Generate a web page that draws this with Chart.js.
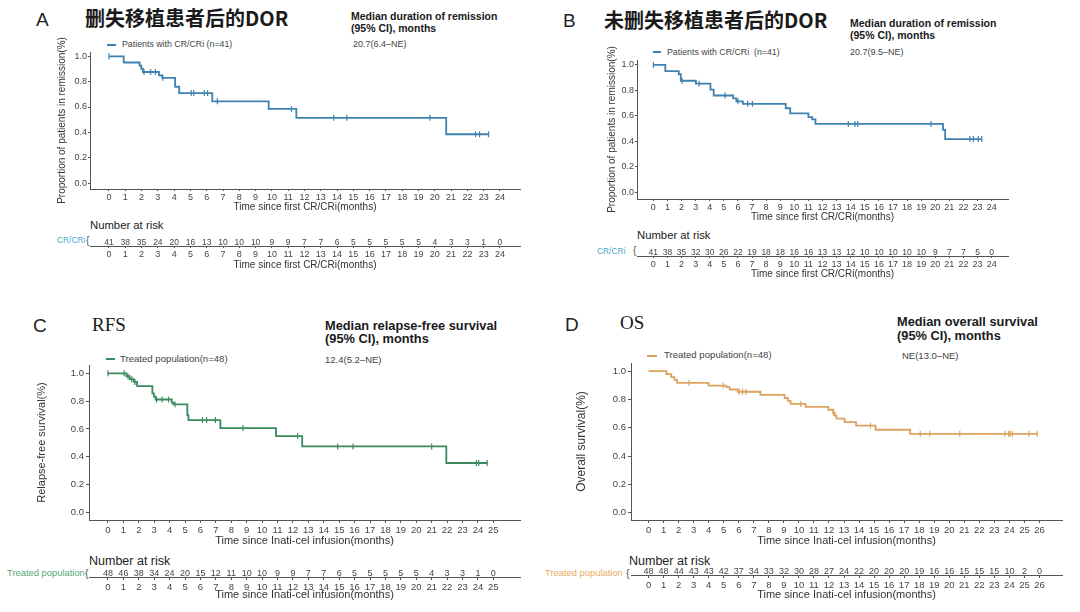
<!DOCTYPE html>
<html>
<head>
<meta charset="utf-8">
<title>DOR / RFS / OS</title>
<script src="https://cdn.jsdelivr.net/npm/chart.js@4.4.1/dist/chart.umd.min.js"></script>
<style>
  body { margin: 0; background: #fff; }
  #page { position: relative; width: 1080px; height: 612px; overflow: hidden; background: #fff;
          font-family: "Liberation Sans", Arial, sans-serif; color: #333; }
  #page canvas { position: absolute; }
  .txt { position: absolute; white-space: nowrap; line-height: 1; }
  .key { position: absolute; height: 2px; }
  .cjk { font-family: "Noto Sans CJK SC", sans-serif; font-weight: 600; color: #1a1a1a; }
  .serif { font-family: "Liberation Serif", serif; font-weight: normal; color: #1a1a1a; }
  .hdr { font-weight: bold; color: #1a1a1a; }
</style>
</head>
<body>
<div id="page">
  <!-- panel A -->
  <div class="txt" style="left:36px;top:10px;font-size:19px;color:#222">A</div>
  <div class="txt cjk" style="left:85px;top:8px;font-size:20px">删失移植患者后的DOR</div>
  <div class="txt hdr" style="left:351px;top:11px;font-size:10.5px">Median duration of remission</div>
  <div class="txt hdr" style="left:351px;top:23px;font-size:10.5px">(95% CI), months</div>
  <div class="txt" style="left:353px;top:40px;font-size:9px;color:#444">20.7(6.4–NE)</div>
  <div class="key" style="left:107px;top:44px;width:9px;background:#3f82b0"></div>
  <div class="txt" style="left:122px;top:40px;font-size:8.8px;color:#444">Patients with CR/CRi (n=41)</div>
  <div class="txt" style="left:90px;top:220px;font-size:11.3px;color:#222">Number at risk</div>
  <div class="txt" style="left:57px;top:236px;font-size:8.4px;color:#4aa8cc">CR/CRi</div>
  <div class="txt" style="left:86px;top:236px;font-size:10px;color:#555">{</div>

  <!-- panel B -->
  <div class="txt" style="left:563px;top:11px;font-size:19px;color:#222">B</div>
  <div class="txt cjk" style="left:604px;top:10px;font-size:20px">未删失移植患者后的DOR</div>
  <div class="txt hdr" style="left:850px;top:18px;font-size:10.5px">Median duration of remission</div>
  <div class="txt hdr" style="left:850px;top:30px;font-size:10.5px">(95% CI), months</div>
  <div class="txt" style="left:850px;top:48px;font-size:9px;color:#444">20.7(9.5–NE)</div>
  <div class="key" style="left:653px;top:51px;width:8px;background:#3f82b0"></div>
  <div class="txt" style="left:667px;top:48px;font-size:8.8px;color:#444">Patients with CR/CRi&nbsp;&nbsp;(n=41)</div>
  <div class="txt" style="left:637px;top:230px;font-size:11.3px;color:#222">Number at risk</div>
  <div class="txt" style="left:597px;top:247px;font-size:8.4px;color:#4aa8cc">CR/CRi</div>
  <div class="txt" style="left:633px;top:246px;font-size:10px;color:#555">{</div>

  <!-- panel C -->
  <div class="txt" style="left:33px;top:316px;font-size:19px;color:#222">C</div>
  <div class="txt serif" style="left:92px;top:315px;font-size:19px">RFS</div>
  <div class="txt hdr" style="left:325px;top:320px;font-size:12.8px">Median relapse-free survival</div>
  <div class="txt hdr" style="left:325px;top:333px;font-size:12.8px">(95% CI), months</div>
  <div class="txt" style="left:325px;top:355px;font-size:9.5px;color:#444">12.4(5.2–NE)</div>
  <div class="key" style="left:106px;top:358px;width:9px;background:#3b8a5e"></div>
  <div class="txt" style="left:120px;top:354px;font-size:9.6px;color:#444">Treated population(n=48)</div>
  <div class="txt" style="left:89px;top:555px;font-size:12.5px;color:#222">Number at risk</div>
  <div class="txt" style="left:7px;top:568px;font-size:9.4px;color:#55a873">Treated population</div>
  <div class="txt" style="left:85px;top:568px;font-size:10.5px;color:#555">{</div>

  <!-- panel D -->
  <div class="txt" style="left:565px;top:315px;font-size:19px;color:#222">D</div>
  <div class="txt serif" style="left:620px;top:313px;font-size:19px">OS</div>
  <div class="txt hdr" style="left:897px;top:316px;font-size:12.8px">Median overall survival</div>
  <div class="txt hdr" style="left:897px;top:330px;font-size:12.8px">(95% CI), months</div>
  <div class="txt" style="left:902px;top:351px;font-size:9.5px;color:#444">NE(13.0–NE)</div>
  <div class="key" style="left:647px;top:355px;width:10px;background:#dca25e"></div>
  <div class="txt" style="left:664px;top:350px;font-size:9.6px;color:#444">Treated population(n=48)</div>
  <div class="txt" style="left:629px;top:555px;font-size:12.5px;color:#222">Number at risk</div>
  <div class="txt" style="left:545px;top:568px;font-size:9.4px;color:#e8ab60">Treated population</div>
  <div class="txt" style="left:626px;top:568px;font-size:10.5px;color:#555">{</div>
</div>

<script>
// Kaplan-Meier panels: DOR (A, B), relapse-free survival (C), overall survival (D)

// ---- shared tick labels ----
const yTicks = [0, 0.2, 0.4, 0.6, 0.8, 1.0];
const dorMonths = [0, 1, 2, 3, 4, 5, 6, 7, 8, 9, 10, 11, 12, 13, 14, 15, 16, 17, 18, 19, 20, 21, 22, 23, 24];
const rfsMonths = [0, 1, 2, 3, 4, 5, 6, 7, 8, 9, 10, 11, 12, 13, 14, 15, 16, 17, 18, 19, 20, 21, 22, 23, 24, 25];
const osMonths = [0, 1, 2, 3, 4, 5, 6, 7, 8, 9, 10, 11, 12, 13, 14, 15, 16, 17, 18, 19, 20, 21, 22, 23, 24, 25, 26];

// ---- panel A: DOR, transplant censored ----
const aTimes = [0, 0.9, 1.88, 1.98, 2.08, 3.07, 3.27, 4.06, 4.31, 6.34, 9.8, 11.5, 20.7];
const aSurv = [1.0, 0.951, 0.927, 0.902, 0.876, 0.85, 0.83, 0.76, 0.71, 0.645, 0.585, 0.515, 0.385];
const aCensor = [0, 2.15, 2.55, 2.85, 3.3, 5.05, 5.2, 5.85, 6.05, 6.65, 11.2, 13.8, 14.6, 19.7, 22.5, 22.75, 23.3];
const aEnd = 23.3;
const aRisk = [41, 38, 35, 24, 20, 16, 13, 10, 10, 10, 9, 9, 7, 7, 6, 5, 5, 5, 5, 5, 4, 3, 3, 1, 0];

// ---- panel B: DOR, transplant not censored ----
const bTimes = [0, 0.85, 1.8, 1.95, 3.02, 4.05, 4.28, 5.66, 5.89, 6.35, 9.39, 9.71, 11.0, 11.27, 11.5, 20.55, 20.7];
const bSurv = [1.0, 0.951, 0.927, 0.876, 0.853, 0.806, 0.76, 0.737, 0.714, 0.695, 0.66, 0.62, 0.59, 0.573, 0.537, 0.49, 0.418];
const bCensor = [0, 2.04, 3.25, 5.09, 6.0, 6.69, 7.03, 13.83, 14.3, 14.5, 19.7, 22.46, 22.7, 23.05, 23.3];
const bEnd = 23.3;
const bRisk = [41, 38, 35, 32, 30, 26, 22, 19, 18, 18, 16, 16, 13, 13, 12, 10, 10, 10, 10, 10, 9, 7, 7, 5, 0];

// ---- panel C: RFS ----
const cTimes = [0, 1.2, 1.41, 1.68, 1.89, 2.88, 2.98, 3.09, 4.14, 4.24, 5.15, 5.22, 7.29, 10.9, 12.6, 21.95];
const cSurv = [1.0, 0.979, 0.958, 0.938, 0.908, 0.856, 0.833, 0.812, 0.79, 0.777, 0.70, 0.664, 0.606, 0.548, 0.474, 0.355];
const cCensor = [0, 1.05, 1.3, 1.55, 1.75, 3.15, 3.51, 3.93, 4.35, 6.13, 6.4, 6.97, 8.76, 12.3, 14.9, 15.9, 21.0, 23.9, 24.05, 24.6];
const cEnd = 24.6;
const cRisk = [48, 46, 38, 34, 24, 20, 15, 12, 11, 10, 10, 9, 9, 7, 7, 6, 5, 5, 5, 5, 5, 4, 3, 3, 1, 0];

// ---- panel D: OS ----
const dTimes = [0, 1.19, 1.51, 1.72, 1.9, 3.99, 5.17, 5.39, 5.93, 7.44, 9.05, 9.27, 9.44, 10.45, 11.96, 12.28, 12.39, 12.5, 13.04, 13.8, 15.1, 17.4];
const dSurv = [1.0, 0.979, 0.958, 0.938, 0.917, 0.898, 0.887, 0.87, 0.854, 0.832, 0.81, 0.789, 0.768, 0.748, 0.727, 0.706, 0.685, 0.665, 0.64, 0.615, 0.586, 0.557];
const dCensor = [2.69, 4.96, 6.03, 6.25, 6.47, 10.13, 12.3, 14.76, 18.07, 18.7, 20.7, 23.7, 23.95, 24.05, 24.2, 25.3, 25.85];
const dEnd = 25.85;
const dRisk = [48, 48, 44, 43, 43, 42, 37, 34, 33, 32, 30, 28, 27, 24, 22, 20, 20, 20, 19, 16, 16, 15, 15, 15, 10, 2, 0];

const FONT = '"Liberation Sans", Arial, sans-serif';
const AXIS = "#555";
const page = document.getElementById("page");

// survival value of a step curve at time t (value after any drop at t)
function kmAt(times, surv, t) {
  let s = surv[0];
  for (let i = 0; i < times.length; i++) {
    if (times[i] <= t) s = surv[i];
  }
  return s;
}

function makeCanvas(left, top, w, h) {
  const c = document.createElement("canvas");
  c.width = w;
  c.height = h;
  c.style.left = left + "px";
  c.style.top = top + "px";
  c.style.width = w + "px";
  c.style.height = h + "px";
  page.appendChild(c);
  return c;
}

function xAxis(p, ticks, height, withTitle) {
  return {
    type: "linear",
    min: p.xMin,
    max: p.xMax,
    afterBuildTicks: s => { s.ticks = ticks.map(v => ({ value: v })); },
    afterFit: s => { s.height = height; },
    ticks: { autoSkip: false, maxRotation: 0, padding: p.tickPad, color: "#444", font: { family: FONT, size: p.tickSize } },
    grid: { drawOnChartArea: false, drawTicks: true, tickLength: p.tickLen, color: AXIS, lineWidth: 1 },
    border: { display: true, color: AXIS, width: 1 },
    title: { display: withTitle, text: p.xTitle, color: "#333", font: { family: FONT, size: p.xTitleSize }, padding: { top: 0, bottom: 0 } }
  };
}

// numbers at risk written just above the axis line, one per month tick
const riskRow = {
  id: "riskRow",
  afterDraw(chart, args, opts) {
    const { ctx, chartArea, scales } = chart;
    ctx.save();
    ctx.font = opts.size + "px " + FONT;
    ctx.fillStyle = "#444";
    ctx.textAlign = "center";
    ctx.textBaseline = "alphabetic";
    opts.months.forEach((m, i) => {
      ctx.fillText(String(opts.counts[i]), scales.x.getPixelForValue(m), chartArea.bottom - 1);
    });
    ctx.restore();
  }
};

// rotated y title, allowed to run past the plot height like the original
const yTitle = {
  id: "yTitle",
  afterDraw(chart, args, opts) {
    const { ctx, chartArea } = chart;
    ctx.save();
    ctx.font = opts.size + "px " + FONT;
    ctx.fillStyle = "#333";
    ctx.textAlign = "center";
    ctx.textBaseline = "middle";
    ctx.translate(opts.x, (chartArea.top + chartArea.bottom) / 2);
    ctx.rotate(-Math.PI / 2);
    ctx.fillText(opts.text, 0, 0);
    ctx.restore();
  }
};

function drawKM(p) {
  const xLh = p.xTitleSize * 1.2;
  const left = Math.round(p.yTitleX - p.yTitleSize);
  const top = p.axT - 30;
  const right = p.axR + 12;
  const bottom = Math.round(p.xTitleY + xLh / 2);
  const canvas = makeCanvas(left, top, right - left, bottom - top);

  const line = p.times.map((t, i) => ({ x: t, y: p.surv[i] }));
  line.push({ x: p.end, y: p.surv[p.surv.length - 1] });
  const marks = p.censor.map(t => ({ x: t, y: kmAt(p.times, p.surv, t) }));

  new Chart(canvas, {
    type: "scatter",
    data: {
      datasets: [
        { data: line, showLine: true, stepped: true, borderColor: p.color, borderWidth: 1.8, pointRadius: 0 },
        { data: marks, showLine: false, pointStyle: "line", pointRotation: 90, pointRadius: 3,
          pointBorderColor: p.color, pointBorderWidth: 1.2 }
      ]
    },
    options: {
      responsive: false,
      animation: false,
      events: [],
      layout: { padding: { top: 30, right: 12, left: 0, bottom: 0 } },
      plugins: {
        legend: { display: false },
        tooltip: { enabled: false },
        yTitle: { text: p.yTitle, size: p.yTitleSize, x: p.yTitleX - left }
      },
      scales: {
        x: xAxis(p, p.months, bottom - p.axB, true),
        y: {
          type: "linear",
          min: p.yMin,
          max: p.yMax,
          afterBuildTicks: s => { s.ticks = yTicks.map(v => ({ value: v })); },
          afterFit: s => { s.width = p.axL - left; },
          ticks: { padding: p.tickPad, color: "#444", font: { family: FONT, size: p.tickSize }, callback: v => Number(v).toFixed(1) },
          grid: { drawOnChartArea: false, drawTicks: true, tickLength: p.tickLen, color: AXIS, lineWidth: 1 },
          border: { display: true, color: AXIS, width: 1 },
          title: { display: false }
        }
      }
    },
    plugins: [yTitle]
  });
}

function drawRisk(p) {
  const xLh = p.xTitleSize * 1.2;
  const top = Math.round(p.rLine - 16);
  const left = p.axL;
  const right = p.axR + 12;
  const bottom = Math.round(p.rTitleY + xLh / 2);
  const canvas = makeCanvas(left, top, right - left, bottom - top);

  new Chart(canvas, {
    type: "scatter",
    data: { datasets: [{ data: [] }] },
    options: {
      responsive: false,
      animation: false,
      events: [],
      layout: { padding: { top: 0, right: 12, left: 0, bottom: 0 } },
      plugins: {
        legend: { display: false },
        tooltip: { enabled: false },
        riskRow: { months: p.months, counts: p.risk, size: p.riskSize }
      },
      scales: {
        x: xAxis(p, p.months, bottom - Math.round(p.rLine), true),
        y: { display: false, min: 0, max: 1 }
      }
    },
    plugins: [riskRow]
  });
}

const panels = [
  { // A
    times: aTimes, surv: aSurv, censor: aCensor, end: aEnd, risk: aRisk, months: dorMonths,
    color: "#3f82b0", xMin: -1.166, xMax: 25.23, yMin: -0.047, yMax: 1.034,
    axL: 90, axT: 52, axB: 189, axR: 520, tickSize: 9, tickLen: 2, tickPad: 1,
    yTitle: "Proportion of patients in remission(%)", yTitleX: 62, yTitleSize: 10,
    xTitle: "Time since first CR/CRi(months)", xTitleY: 207, xTitleSize: 10,
    rLine: 246, rTitleY: 264.5, riskSize: 8.5
  },
  { // B
    times: bTimes, surv: bSurv, censor: bCensor, end: bEnd, risk: bRisk, months: dorMonths,
    color: "#3f82b0", xMin: -1.16, xMax: 25.16, yMin: -0.053, yMax: 1.039,
    axL: 637, axT: 60, axB: 199, axR: 1008, tickSize: 9, tickLen: 2, tickPad: 1,
    yTitle: "Proportion of patients in remission(%)", yTitleX: 612, yTitleSize: 10,
    xTitle: "Time since first CR/CRi(months)", xTitleY: 216.5, xTitleSize: 10,
    rLine: 256, rTitleY: 274, riskSize: 8.5
  },
  { // C
    times: cTimes, surv: cSurv, censor: cCensor, end: cEnd, risk: cRisk, months: rfsMonths,
    color: "#3b8a5e", xMin: -1.23, xMax: 26.73, yMin: -0.055, yMax: 1.06,
    axL: 89, axT: 365, axB: 520, axR: 520, tickSize: 9.5, tickLen: 3, tickPad: 2,
    yTitle: "Relapse-free survival(%)", yTitleX: 41.7, yTitleSize: 11,
    xTitle: "Time since Inati-cel infusion(months)", xTitleY: 541.7, xTitleSize: 11,
    rLine: 577, rTitleY: 595, riskSize: 9
  },
  { // D
    times: dTimes, surv: dSurv, censor: dCensor, end: dEnd, risk: dRisk, months: osMonths,
    color: "#dca25e", xMin: -1.17, xMax: 27.5, yMin: -0.051, yMax: 1.057,
    axL: 631, axT: 363, axB: 520, axR: 1062, tickSize: 9.5, tickLen: 3, tickPad: 2,
    yTitle: "Overall survival(%)", yTitleX: 581.7, yTitleSize: 12,
    xTitle: "Time since Inati-cel infusion(months)", xTitleY: 541.7, xTitleSize: 11,
    rLine: 575, rTitleY: 595, riskSize: 9
  }
];

panels.forEach(p => {
  drawKM(p);
  drawRisk(p);
});
</script>
</body>
</html>
